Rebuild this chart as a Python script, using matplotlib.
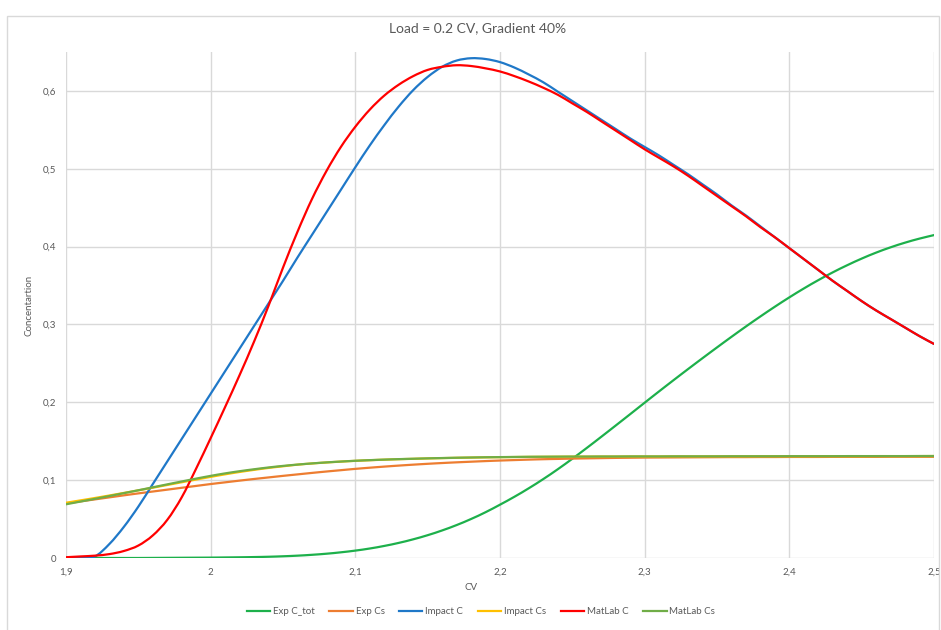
import numpy as np
import matplotlib
matplotlib.use("Agg")
import matplotlib.pyplot as plt
from matplotlib.ticker import FuncFormatter, MultipleLocator
from matplotlib.patches import Rectangle, PathPatch
from matplotlib.path import Path
from matplotlib.lines import Line2D

plt.rcParams['font.family'] = ['Lato', 'DejaVu Sans']

# CV from 1.90 to 2.50, step 0.01
cv = np.linspace(1.9, 2.5, 61)

exp_c_tot = [
    0.0000, 0.0000, 0.0000, 0.0000, 0.0000, 0.0000, 0.0001, 0.0002, 0.0003, 0.0004,
    0.0005, 0.0007, 0.0009, 0.0012, 0.0016, 0.0022, 0.0030, 0.0041, 0.0055, 0.0073,
    0.0095, 0.0122, 0.0155, 0.0194, 0.0240, 0.0293, 0.0354, 0.0423, 0.0501, 0.0588,
    0.0685, 0.0787, 0.0897, 0.1015, 0.1141, 0.1275, 0.1414, 0.1557, 0.1702, 0.1848,
    0.1995, 0.2141, 0.2285, 0.2427, 0.2567, 0.2705, 0.2841, 0.2974, 0.3103, 0.3228,
    0.3348, 0.3462, 0.3569, 0.3669, 0.3761, 0.3846, 0.3923, 0.3991, 0.4051, 0.4103,
    0.4148]

exp_cs = [
    0.0700, 0.0727, 0.0753, 0.0779, 0.0805, 0.0830, 0.0854, 0.0878, 0.0902, 0.0926,
    0.0950, 0.0972, 0.0994, 0.1015, 0.1035, 0.1055, 0.1074, 0.1093, 0.1111, 0.1128,
    0.1145, 0.1160, 0.1174, 0.1187, 0.1199, 0.1210, 0.1220, 0.1229, 0.1237, 0.1245,
    0.1252, 0.1258, 0.1264, 0.1269, 0.1273, 0.1277, 0.1280, 0.1283, 0.1286, 0.1288,
    0.1290, 0.1291, 0.1292, 0.1293, 0.1294, 0.1295, 0.1296, 0.1296, 0.1297, 0.1297,
    0.1298, 0.1298, 0.1298, 0.1299, 0.1299, 0.1299, 0.1299, 0.1300, 0.1300, 0.1300,
    0.1300]

impact_c = [
    0.000, 0.000, 0.002, 0.018, 0.040, 0.066, 0.095, 0.124, 0.153, 0.182,
    0.211, 0.240, 0.269, 0.298, 0.327, 0.356, 0.386, 0.415, 0.444, 0.473,
    0.502, 0.530, 0.556, 0.580, 0.601, 0.618, 0.631, 0.639, 0.642, 0.641,
    0.637, 0.630, 0.621, 0.611, 0.599, 0.587, 0.575, 0.563, 0.551, 0.539,
    0.528, 0.517, 0.505, 0.493, 0.480, 0.467, 0.453, 0.440, 0.426, 0.412,
    0.398, 0.384, 0.370, 0.356, 0.343, 0.330, 0.318, 0.307, 0.296, 0.285,
    0.275]

impact_cs = [
    0.0710, 0.0740, 0.0771, 0.0803, 0.0836, 0.0869, 0.0903, 0.0938, 0.0973, 0.1008,
    0.1042, 0.1075, 0.1105, 0.1132, 0.1157, 0.1178, 0.1199, 0.1214, 0.1227, 0.1238,
    0.1248, 0.1256, 0.1263, 0.1269, 0.1274, 0.1279, 0.1283, 0.1287, 0.1290, 0.1293,
    0.1295, 0.1297, 0.1299, 0.1300, 0.1301, 0.1302, 0.1302, 0.1303, 0.1303, 0.1304,
    0.1304, 0.1304, 0.1305, 0.1305, 0.1305, 0.1306, 0.1306, 0.1306, 0.1307, 0.1307,
    0.1307, 0.1307, 0.1308, 0.1308, 0.1308, 0.1308, 0.1309, 0.1309, 0.1309, 0.1309,
    0.1310]

matlab_c = [
    0.001, 0.002, 0.003, 0.005, 0.009, 0.016, 0.029, 0.049, 0.078, 0.115,
    0.154, 0.194, 0.235, 0.278, 0.324, 0.373, 0.419, 0.461, 0.497, 0.528,
    0.554, 0.576, 0.594, 0.608, 0.619, 0.627, 0.631, 0.633, 0.632, 0.629,
    0.625, 0.619, 0.612, 0.604, 0.595, 0.584, 0.573, 0.561, 0.549, 0.537,
    0.525, 0.514, 0.503, 0.491, 0.478, 0.465, 0.452, 0.439, 0.425, 0.412,
    0.398, 0.384, 0.370, 0.356, 0.343, 0.330, 0.318, 0.307, 0.296, 0.285,
    0.275]

matlab_cs = [
    0.0690, 0.0725, 0.0760, 0.0796, 0.0833, 0.0870, 0.0908, 0.0946, 0.0983, 0.1020,
    0.1055, 0.1087, 0.1115, 0.1140, 0.1163, 0.1183, 0.1200, 0.1215, 0.1228, 0.1239,
    0.1249, 0.1257, 0.1264, 0.1270, 0.1275, 0.1280, 0.1284, 0.1288, 0.1291, 0.1294,
    0.1296, 0.1298, 0.1300, 0.1301, 0.1302, 0.1303, 0.1303, 0.1304, 0.1304, 0.1305,
    0.1305, 0.1305, 0.1306, 0.1306, 0.1306, 0.1306, 0.1307, 0.1307, 0.1307, 0.1307,
    0.1308, 0.1308, 0.1308, 0.1308, 0.1309, 0.1309, 0.1309, 0.1309, 0.1309, 0.1310,
    0.1310]

series = [
    ("Exp C_tot", exp_c_tot, "#1DB04B"),
    ("Exp Cs", exp_cs, "#ED7D31"),
    ("Impact C", impact_c, "#1F78C8"),
    ("Impact Cs", impact_cs, "#FFC000"),
    ("MatLab C", matlab_c, "#FF0000"),
    ("MatLab Cs", matlab_cs, "#70AD47"),
]

text_col = "#595959"
grid_col = "#D9D9D9"


def smooth_path(x, y):
    # smoothed line like a spreadsheet chart: cubic Bezier through every point
    p = np.column_stack([x, y])
    ext = np.vstack([p[0], p, p[-1]])
    verts = [p[0]]
    codes = [Path.MOVETO]
    for i in range(len(p) - 1):
        c1 = ext[i + 1] + (ext[i + 2] - ext[i]) / 6
        c2 = ext[i + 2] - (ext[i + 3] - ext[i + 1]) / 6
        verts += [c1, c2, p[i + 1]]
        codes += [Path.CURVE4] * 3
    return Path(verts, codes)


fig = plt.figure(figsize=(9.41, 6.3), dpi=100)
ax = fig.add_axes([66 / 941, 1 - 558 / 630, 868 / 941, 506 / 630])

handles = []
for name, vals, col in series:
    ax.add_patch(PathPatch(smooth_path(cv, vals), fill=False, edgecolor=col,
                           lw=1.6, capstyle="round", joinstyle="round"))
    handles.append(Line2D([], [], color=col, lw=1.6, label=name))

ax.set_xlim(1.9, 2.5)
ax.set_ylim(0, 0.65)
ax.xaxis.set_major_locator(MultipleLocator(0.1))
ax.yaxis.set_major_locator(MultipleLocator(0.1))


def comma(v, pos):
    v = round(v, 2)
    return f"{v:.10g}".replace(".", ",") if abs(v) > 1e-9 else "0"


ax.xaxis.set_major_formatter(FuncFormatter(comma))
ax.yaxis.set_major_formatter(FuncFormatter(comma))
ax.grid(True, color=grid_col, lw=1)
ax.set_axisbelow(True)
for s in ax.spines.values():
    s.set_visible(False)
ax.tick_params(length=0, colors=text_col, labelsize=7, pad=7)

fig.text(471 / 941, 1 - 587 / 630, "CV", ha="center", va="center",
         color=text_col, fontsize=7)
fig.text(29 / 941, 1 - 305 / 630, "Concentartion", ha="center", va="center",
         rotation=90, color=text_col, fontsize=7)
fig.text(478 / 941, 1 - 28 / 630, "Load = 0.2 CV, Gradient 40%",
         ha="center", va="center", color=text_col, fontsize=10)

fig.legend(handles=handles, loc="center",
           bbox_to_anchor=(481 / 941, 1 - 612 / 630), ncol=6,
           frameon=False, fontsize=7, handlelength=2.4, columnspacing=1.5,
           handletextpad=0.3, labelcolor=text_col)

# chart frame
fig.patches.append(Rectangle((7 / 941, -0.05), 932 / 941, 1.05 - 16 / 630,
                             transform=fig.transFigure, fill=False,
                             edgecolor=grid_col, lw=1))

fig.savefig("out.png", dpi=100)
